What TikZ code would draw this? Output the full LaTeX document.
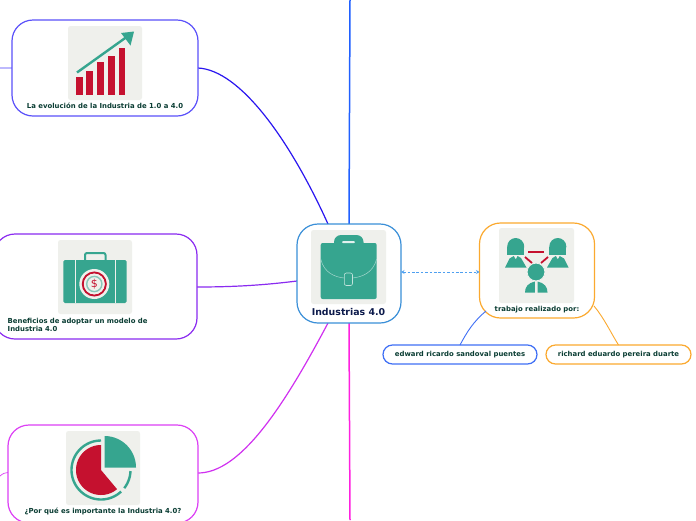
\documentclass[tikz,border=0pt]{standalone}
\usepackage{fontspec}
\setmainfont{DejaVu Sans}
\usetikzlibrary{arrows.meta}
\definecolor{teal1}{HTML}{36A58F}
\definecolor{red1}{HTML}{C5112F}
\definecolor{paper}{HTML}{EFF0EC}
\definecolor{txtg}{HTML}{0A3D33}
\definecolor{txtn}{HTML}{0C1A4B}
\definecolor{cblue}{HTML}{2A16F0}
\definecolor{ctop}{HTML}{2060FF}
\definecolor{cboxblue}{HTML}{5A50FA}
\definecolor{cpurple}{HTML}{8A2BF0}
\definecolor{cmag}{HTML}{DC40F5}
\definecolor{cmagline}{HTML}{D030F0}
\definecolor{cpink}{HTML}{FF20E0}
\definecolor{ccen}{HTML}{3A8FD8}
\definecolor{corange}{HTML}{FBA92F}
\definecolor{cedw}{HTML}{3F6FF5}
\definecolor{cdash}{HTML}{4FA0F0}
\tikzset{
  mapbox/.style={draw=#1,line width=1.2pt,rounded corners=21pt,fill=white,inner sep=0pt,outer sep=0pt},
  leaf/.style={draw=#1,line width=1.2pt,rounded corners=9.5pt,fill=white,inner sep=0pt,outer sep=0pt,minimum height=19pt,font=\bfseries\fontsize{6.9}{8}\selectfont,text=txtg},
  cap/.style={font=\bfseries\fontsize{6.9}{8}\selectfont,text=txtg,inner sep=0pt,align=#1},
  cap/.default=center,
  iconbg/.style={fill=paper,rounded corners=2.5pt},
  link/.style={line width=#1},
  link/.default=1.2pt,
}
\begin{document}
\begin{tikzpicture}[x=1pt,y=-1pt]
\useasboundingbox (0,0) rectangle (696,520);
\clip (0,0) rectangle (696,520);
\fill[white] (0,0) rectangle (696,520);
\coordinate (topend) at (350,0);
\coordinate (botend) at (350,520);
\coordinate (lstub1) at (0,68);
\coordinate (lstub3) at (0,476);
\coordinate (c1) at (328,224);
\coordinate (c2) at (297,281);
\coordinate (c3) at (328,323);
\coordinate (b3r) at (198,473);
\coordinate (b3l) at (8,472.5);
\coordinate (tred) at (486,311);
\coordinate (trri) at (594,306);
% connectors, under the boxes
\draw[link=1.5pt,ctop] (349,224) -- (topend);
\draw[link=1.5pt,cpink] (349,323) -- (botend);
\draw[link,cblue] (198,68) .. controls (240,70) and (290,140) .. (c1);
\draw[link,cpurple] (197,287) .. controls (235,287) and (265,285) .. (c2);
\draw[link,cmagline] (b3r) .. controls (240,473) and (283,408) .. (c3);
\draw[link=1.4pt,cboxblue!40] (lstub1) -- (12,68);
\draw[link=.7pt,cmag] (lstub3) .. controls (3,473.5) and (5,472.5) .. (b3l);
% boxes
\node[mapbox=ccen,minimum width=104pt,minimum height=99pt] (cen) at (349,273.5) {};
\node[mapbox=cboxblue,minimum width=186pt,minimum height=96pt] (b1) at (105,68) {};
\node[mapbox=cpurple,minimum width=203pt,minimum height=105pt] (b2) at (95.5,286.5) {};
\node[mapbox=cmag,minimum width=190pt,minimum height=98pt] (b3) at (103,474) {};
\node[mapbox=corange,minimum width=115pt,minimum height=95pt] (tr) at (537,270.5) {};
\node[leaf=cedw,minimum width=154pt] (ed) at (460,354.5) {edward ricardo sandoval puentes};
\node[leaf=corange,minimum width=145pt] (ri) at (618.5,354.5) {richard eduardo pereira duarte};
\draw[line width=.8pt,cdash,dash pattern=on 2.6pt off 1.8pt,{Stealth[length=3.5pt,width=4pt,open]}-{Stealth[length=3.5pt,width=4pt]}] (cen.east |- 0,272) -- (tr.west |- 0,272);
\draw[link=.9pt,cedw] (ed.north) .. controls (467,332) and (473,322) .. (tred);
\draw[link=.9pt,corange] (ri.north) .. controls (611,333) and (604,318) .. (trri);
% icon 1: chart
\fill[iconbg] (68,26) rectangle (142,100);
\foreach \xa/\ya in {76/77,86/70.5,97/62,108/56,118.5/47.5}
  \fill[red1] (\xa,\ya) rectangle ++(6.8,95-\ya);
\draw[teal1,line width=2.4pt] (77,72.5) -- (128,36);
\fill[teal1] (134,31.5) -- (121,33) -- (130.5,45.5) -- cycle;
\node[cap] (t1) at (105,105.5) {La evolución de la Industria de 1.0 a 4.0};
% icon 2: money case
\fill[iconbg] (58,240) rectangle (132,314);
\draw[teal1,line width=2pt,rounded corners=2pt] (85,261) -- (85,253) -- (105.5,253) -- (105.5,261);
\fill[teal1,rounded corners=1.5pt] (63.3,260) rectangle (126.7,303);
\fill[paper] (74.8,260) rectangle (76,303);
\fill[paper] (114.5,260) rectangle (115.7,303);
\fill[paper] (94.3,284) circle (15);
\draw[red1,line width=2pt] (94.3,284) circle (11.5);
\fill[paper] (94.3,284) circle (10.4);
\draw[teal1!55!paper,line width=1.4pt] (94.3,284) circle (7.6);
\fill[paper] (94.3,284) circle (6.2);
\node[inner sep=0pt,text=red1,font=\fontsize{11}{11}\selectfont] (dollar) at (94.3,284) {\$};
\node[cap=left,text width=170pt,anchor=north west] (t2) at (7.5,318) {Beneficios de adoptar un modelo de\\Industria 4.0};
% icon 3: pie
\fill[iconbg] (66,431) rectangle (140,505);
\fill[teal1] (104.5,467.5) -- plot[domain=90:0,samples=30] ({104.5+31.5*cos(\x)},{467.5-31.5*sin(\x)}) -- cycle;
\fill[red1] (101,470) -- plot[domain=90:310,samples=50] ({101+25*cos(\x)},{470-25*sin(\x)}) -- cycle;
\draw[teal1,line width=2.4pt] plot[domain=90:313,samples=50] ({101+29.5*cos(\x)},{470-29.5*sin(\x)});
\draw[teal1,line width=2.4pt] plot[domain=-38:-2,samples=12] ({101+29.5*cos(\x)},{470-29.5*sin(\x)});
\node[cap] (t3) at (103,511) {¿Por qué es importante la Industria 4.0?};
% center icon
\fill[iconbg] (311,230) rectangle (386,304);
\fill[teal1,rounded corners=7pt] (334,250) -- (334,235) -- (363.5,235) -- (363.5,250) -- cycle;
\fill[teal1,rounded corners=2pt] (320.7,243) rectangle (376.7,299);
\fill[white!85!teal1,rounded corners=1pt] (342,241) rectangle (355,243);
\draw[white!55!teal1,line width=.5pt] (320.7,259) .. controls (324,273) and (335,277) .. (344,278);
\draw[white!55!teal1,line width=.5pt] (376.7,259) .. controls (373,273) and (362,277) .. (352.5,278);
\draw[white!70!teal1,line width=.6pt,rounded corners=2pt] (344.3,273) rectangle (352.5,285.5);
\node[font=\bfseries\fontsize{9.4}{10}\selectfont,text=txtn,inner sep=0pt] (t0) at (348.5,311.5) {Industrias 4.0};
% team icon
\fill[iconbg] (499,228) rectangle (574,303);
\foreach \cx in {515.7,557.8}{
  \fill[teal1] (\cx,246.5) circle (8.5);
  \fill[teal1] (\cx-8.5,246.5) rectangle (\cx+8.5,254.5);
}
\fill[teal1] (505,267.5) -- (509.5,258.5) -- (513.8,256) -- (515.7,259.5) -- (517.6,256) -- (521,258) -- (526.5,267.5) -- cycle;
\fill[teal1] (568.5,267.5) -- (564,258.5) -- (559.7,256) -- (557.8,259.5) -- (555.9,256) -- (552.5,258) -- (547,267.5) -- cycle;
\draw[paper,line width=3.4pt] (524,256) -- (532,263);
\draw[paper,line width=3.4pt] (549,256) -- (541,263);
\draw[red1,line width=1.8pt] (528,252) -- (544,252);
\draw[red1,line width=1.8pt] (525,257) -- (532,263);
\draw[red1,line width=1.8pt] (548,257) -- (541,263);
\fill[teal1,draw=paper,line width=.8pt] (536,272) circle (8.9);
\fill[teal1] (525,292.5) .. controls (525,287) and (528,283) .. (534.8,281.5) -- (534.8,292.5) -- cycle;
\fill[teal1] (547.5,292.5) .. controls (547.5,287) and (544.5,283) .. (537.5,281.5) -- (537.5,292.5) -- cycle;
\node[cap] (t4) at (537,309.5) {trabajo realizado por:};
\end{tikzpicture}
\end{document}
